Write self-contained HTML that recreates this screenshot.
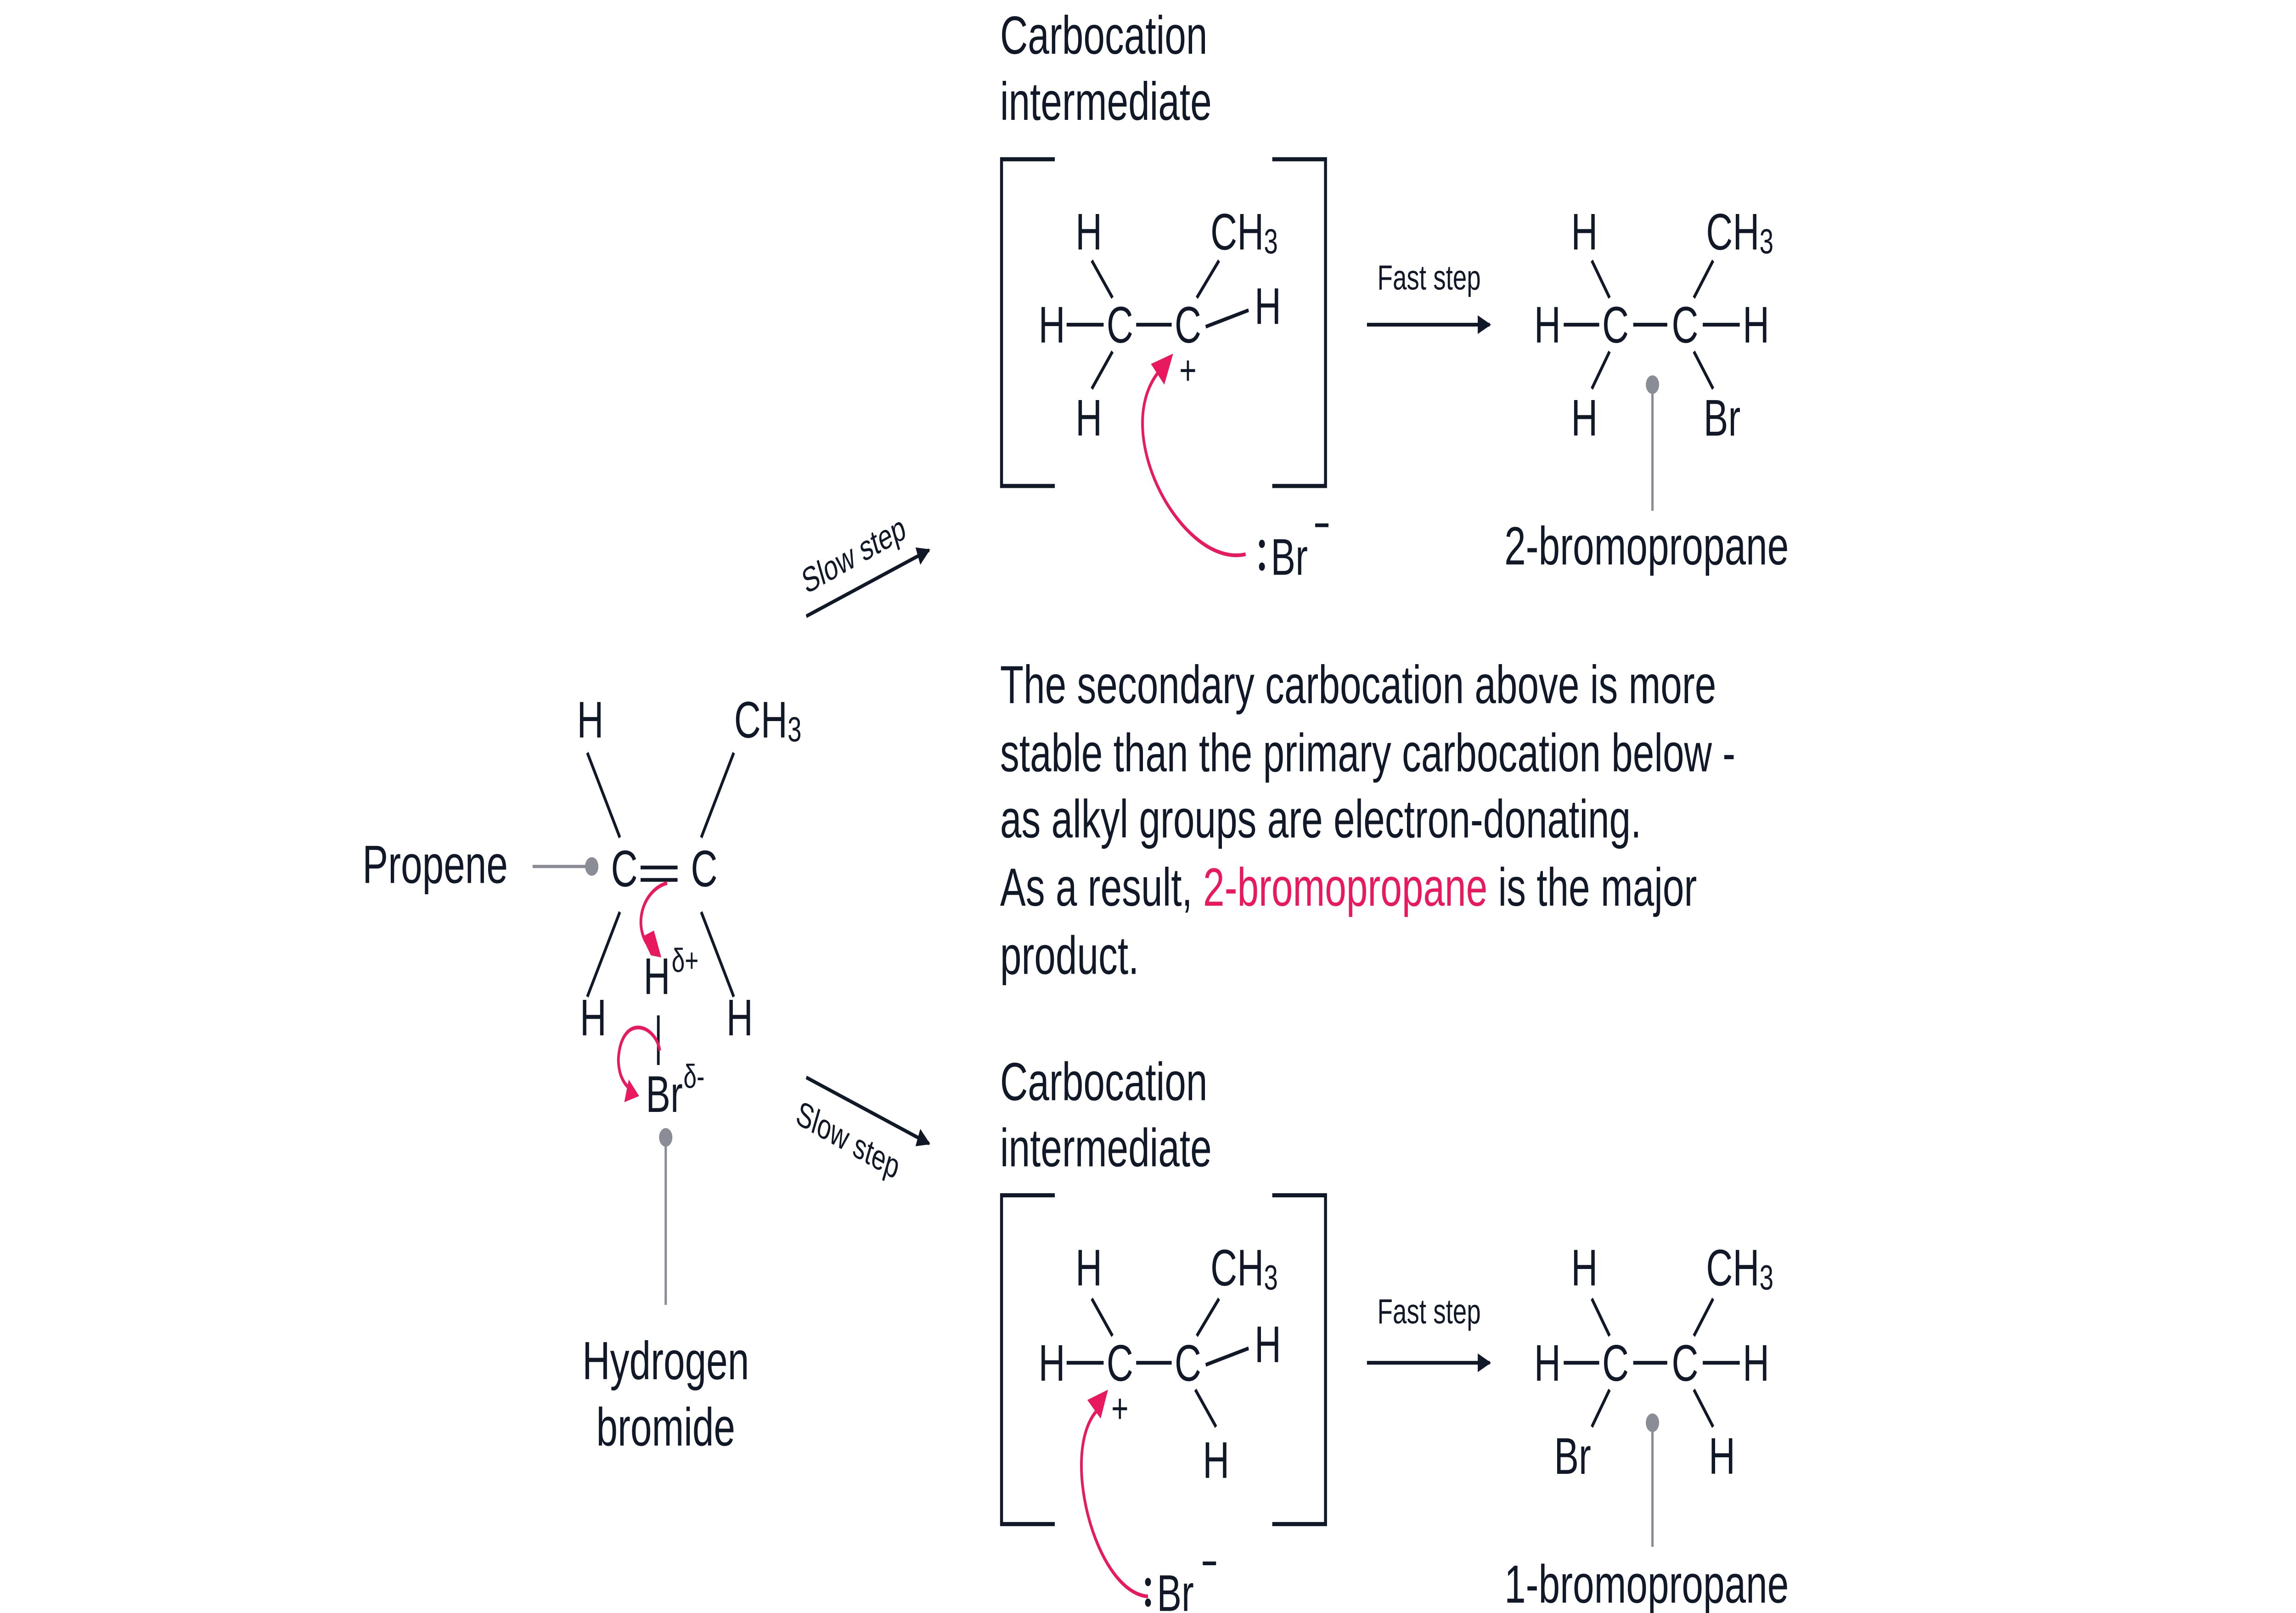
<!DOCTYPE html>
<html><head><meta charset="utf-8"><style>
html,body{margin:0;padding:0;background:#fff;overflow:hidden;width:100%;height:100%;}
svg{display:block;position:fixed;left:0;top:0;width:100vw;height:100vh;}
text{font-family:"Liberation Sans",sans-serif;fill:#111827;}
</style></head><body>
<svg viewBox="0 0 1552 780" preserveAspectRatio="none" xmlns="http://www.w3.org/2000/svg">
<defs>
<marker id="ah" viewBox="0 0 10 10" refX="9" refY="5" markerWidth="5" markerHeight="5" orient="auto"><path d="M0,0 L10,5 L0,10 z" fill="#111827"/></marker>
</defs>
<g stroke="#111827" stroke-width="1.8" fill="none">
<line x1="397" y1="364" x2="419" y2="405"/>
<line x1="496" y1="364" x2="474" y2="405"/>
<line x1="419" y1="441" x2="397" y2="482"/>
<line x1="474" y1="441" x2="496" y2="482"/>
<line x1="433" y1="419.5" x2="458" y2="419.5"/>
<line x1="433" y1="425.5" x2="458" y2="425.5"/>
<line x1="445" y1="491" x2="445" y2="515"/>
<polyline points="713,77 677,77 677,235 713,235" stroke-width="2"/>
<polyline points="860,77 896,77 896,235 860,235" stroke-width="2"/>
<line x1="721" y1="157" x2="746" y2="157"/>
<line x1="768" y1="157" x2="792" y2="157"/>
<line x1="815" y1="158" x2="844" y2="150"/>
<line x1="738" y1="126" x2="752" y2="144"/>
<line x1="824" y1="126" x2="809" y2="144"/>
<line x1="752" y1="170" x2="738" y2="188"/>
<line x1="924" y1="157" x2="1007" y2="157" marker-end="url(#ah)"/>
<line x1="1057" y1="157" x2="1081" y2="157"/>
<line x1="1104" y1="157" x2="1127" y2="157"/>
<line x1="1151" y1="157" x2="1176" y2="157"/>
<line x1="1076" y1="126" x2="1088" y2="144"/>
<line x1="1158" y1="126" x2="1145" y2="144"/>
<line x1="1088" y1="170" x2="1076" y2="188"/>
<line x1="1145" y1="170" x2="1158" y2="188"/>
<line x1="545" y1="298" x2="628" y2="266" marker-end="url(#ah)"/>
<line x1="545" y1="521" x2="628" y2="553" marker-end="url(#ah)"/>
<polyline points="713,578 677,578 677,737 713,737" stroke-width="2"/>
<polyline points="860,578 896,578 896,737 860,737" stroke-width="2"/>
<line x1="721" y1="659" x2="746" y2="659"/>
<line x1="768" y1="659" x2="792" y2="659"/>
<line x1="815" y1="660" x2="844" y2="652"/>
<line x1="738" y1="628" x2="752" y2="646"/>
<line x1="824" y1="628" x2="809" y2="646"/>
<line x1="808" y1="672" x2="822" y2="690"/>
<line x1="924" y1="659" x2="1007" y2="659" marker-end="url(#ah)"/>
<line x1="1057" y1="659" x2="1081" y2="659"/>
<line x1="1104" y1="659" x2="1127" y2="659"/>
<line x1="1151" y1="659" x2="1176" y2="659"/>
<line x1="1076" y1="628" x2="1088" y2="646"/>
<line x1="1158" y1="628" x2="1145" y2="646"/>
<line x1="1088" y1="672" x2="1076" y2="690"/>
<line x1="1145" y1="672" x2="1158" y2="690"/>
</g>
<g stroke="#8a8d96" stroke-width="1.6" fill="#8a8d96">
<line x1="360" y1="419" x2="400" y2="419"/>
<circle cx="400" cy="419" r="4.5" stroke="none"/>
<line x1="450" y1="550" x2="450" y2="631"/>
<circle cx="450" cy="550" r="4.5" stroke="none"/>
<line x1="1117" y1="186" x2="1117" y2="247"/>
<circle cx="1117" cy="186" r="4.5" stroke="none"/>
<line x1="1117" y1="688" x2="1117" y2="748"/>
<circle cx="1117" cy="688" r="4.5" stroke="none"/>
</g>
<g stroke="#e8195f" stroke-width="1.8" fill="none">
<path d="M451,427 C436,430 428,445 437,456"/>
<path d="M446,508 C443,495 420,490 418,512 C418,520 422,524 425,526"/>
<path d="M842,268 C800,275 750,210 783,180"/>
<path d="M776,772 C740,770 715,700 743,681"/>
</g>
<g fill="#e8195f">
<polygon points="434,453 440,462 447,463 442,450"/>
<polygon points="422,533 432,530 425,522"/>
<polygon points="793,171 778,176 787,186"/>
<polygon points="749,672 735,677 744,686"/>
</g>
<g font-size="25" text-anchor="middle" dominant-baseline="central">
<text x="399" y="348">H</text>
<text x="519" y="348">CH<tspan font-size="17" dy="5">3</tspan></text>
<text x="422" y="420">C</text>
<text x="476" y="420">C</text>
<text x="401" y="492">H</text>
<text x="500" y="492">H</text>
<text x="444" y="472">H</text>
<text x="449" y="529">Br</text>

<text x="736" y="112">H</text>
<text x="841" y="112">CH<tspan font-size="17" dy="5">3</tspan></text>
<text x="711" y="157">H</text>
<text x="757" y="157">C</text>
<text x="803" y="157">C</text>
<text x="857" y="148">H</text>
<text x="736" y="202">H</text>
<text x="803" y="179" font-size="20">+</text>

<text x="1071" y="112">H</text>
<text x="1176" y="112">CH<tspan font-size="17" dy="5">3</tspan></text>
<text x="1046" y="157">H</text>
<text x="1092" y="157">C</text>
<text x="1139" y="157">C</text>
<text x="1187" y="157">H</text>
<text x="1071" y="202">H</text>
<text x="1164" y="202">Br</text>

<text x="736" y="613">H</text>
<text x="841" y="613">CH<tspan font-size="17" dy="5">3</tspan></text>
<text x="711" y="659">H</text>
<text x="757" y="659">C</text>
<text x="803" y="659">C</text>
<text x="857" y="650">H</text>
<text x="822" y="706">H</text>
<text x="757" y="681" font-size="20">+</text>

<text x="1071" y="613">H</text>
<text x="1176" y="613">CH<tspan font-size="17" dy="5">3</tspan></text>
<text x="1046" y="659">H</text>
<text x="1092" y="659">C</text>
<text x="1139" y="659">C</text>
<text x="1187" y="659">H</text>
<text x="1063" y="704">Br</text>
<text x="1164" y="704">H</text>
</g>
<g font-size="16">
<text x="454" y="470">δ+</text>
<text x="462" y="526">δ-</text>
</g>
<circle cx="853" cy="263" r="2" fill="#111827"/><circle cx="853" cy="274" r="2" fill="#111827"/>
<text x="859" y="278" font-size="25">Br</text>
<line x1="889" y1="254" x2="898" y2="254" stroke="#111827" stroke-width="1.8"/>
<circle cx="776" cy="765" r="2" fill="#111827"/><circle cx="776" cy="775" r="2" fill="#111827"/>
<text x="782" y="779" font-size="25">Br</text>
<line x1="813" y1="756" x2="822" y2="756" stroke="#111827" stroke-width="1.8"/>
<g font-size="26">
<text x="245" y="427">Propene</text>
<text x="450" y="667" text-anchor="middle">Hydrogen</text>
<text x="450" y="699" text-anchor="middle">bromide</text>
<text x="676" y="26">Carbocation</text>
<text x="676" y="58">intermediate</text>
<text x="676" y="532">Carbocation</text>
<text x="676" y="564">intermediate</text>
<text x="1113" y="273" text-anchor="middle">2-bromopropane</text>
<text x="1113" y="775" text-anchor="middle">1-bromopropane</text>
<text x="676" y="340">The secondary carbocation above is more</text>
<text x="676" y="373">stable than the primary carbocation below -</text>
<text x="676" y="405">as alkyl groups are electron-donating.</text>
<text x="676" y="438">As a result, <tspan fill="#e8195f">2-bromopropane</tspan> is the major</text>
<text x="676" y="471">product.</text>
</g>
<g font-size="17" text-anchor="middle">
<text x="966" y="140">Fast step</text>
<text x="966" y="640">Fast step</text>
<text x="577" y="274" transform="rotate(-22 577 268)">Slow step</text>
<text x="573" y="557" transform="rotate(22 573 552)">Slow step</text>
</g>
</svg>
</body></html>
